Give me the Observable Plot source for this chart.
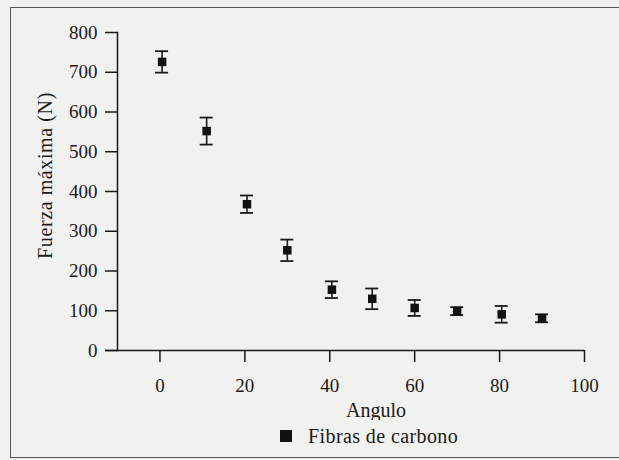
<!DOCTYPE html>
<html><head><meta charset="utf-8">
<script src="https://cdn.jsdelivr.net/npm/d3@7"></script>
<script src="https://cdn.jsdelivr.net/npm/@observablehq/plot@0.6"></script>
<style>
html,body{margin:0;padding:0;background:#f1f1ef;}
body{width:619px;height:460px;position:relative;overflow:hidden;font-family:"Liberation Serif",serif;color:#1a1a1a;}
#frame{position:absolute;left:10px;top:7px;width:640px;height:451px;border:1.5px solid #555;box-sizing:border-box;pointer-events:none;}
#chart{position:absolute;left:0;top:0;}
#legend{position:absolute;left:280px;top:425px;display:flex;align-items:center;gap:16px;font-size:20px;letter-spacing:0.4px;line-height:22px;}
#legend .sw{width:12px;height:12px;background:#111;display:inline-block;}
</style></head>
<body>
<div id="chart"></div>
<div id="legend"><span class="sw"></span><span id="legtext"></span></div>
<div id="frame"></div>
<script>
const angles = [0.5, 11, 20.5, 30, 40.5, 50, 60, 70, 80.5, 90];
const fuerza = [726, 552, 368, 252, 153, 130, 107, 99, 91, 81];
const errores = [27, 34, 22, 27, 21, 26, 20, 10, 21, 10];
const xTicks = [0, 20, 40, 60, 80, 100];
const yTicks = [0, 100, 200, 300, 400, 500, 600, 700, 800];
const seriesName = "Fibras de carbono";
const xLabel = "Angulo";
const yLabel = "Fuerza máxima (N)";

const data = angles.map((a, i) => ({x: a, y: fuerza[i], lo: fuerza[i] - errores[i], hi: fuerza[i] + errores[i]}));
const ink = "#1a1a1a";
document.getElementById("legtext").textContent = seriesName;

const chart = Plot.plot({
  width: 619, height: 420,
  marginLeft: 117, marginRight: 35, marginTop: 32, marginBottom: 70,
  style: {background: "transparent", fontFamily: "Liberation Serif, serif", fontSize: "19px", color: ink},
  x: {domain: [-10, 100]},
  y: {domain: [0, 800]},
  marks: [
    Plot.frame({anchor: "left", stroke: ink, strokeWidth: 1.5}),
    Plot.ruleY([0], {stroke: ink, strokeWidth: 1.5, insetLeft: -12}),
    Plot.axisY({ticks: yTicks, tickSize: 12, tickPadding: 8, label: null, stroke: ink, strokeWidth: 1.5, fontSize: 19}),
    Plot.axisX({ticks: xTicks, tickSize: 12, tickPadding: 16, label: null, stroke: ink, strokeWidth: 1.5, fontSize: 19}),
    Plot.text([xLabel], {text: d => d, frameAnchor: "bottom", textAnchor: "middle", dx: 25, dy: 66, fontSize: 20, fill: ink, style: "letter-spacing:0.4px"}),
    Plot.text([yLabel], {text: d => d, frameAnchor: "left", textAnchor: "middle", dx: -72, dy: -16, rotate: -90, fontSize: 20, fill: ink}),
    Plot.ruleX(data, {x: "x", y1: "lo", y2: "hi", stroke: ink, strokeWidth: 1.6}),
    Plot.ruleY(data, {y: "hi", x1: "x", x2: "x", insetLeft: -6.5, insetRight: -6.5, stroke: ink, strokeWidth: 1.8}),
    Plot.ruleY(data, {y: "lo", x1: "x", x2: "x", insetLeft: -6.5, insetRight: -6.5, stroke: ink, strokeWidth: 1.8}),
    Plot.dot(data, {x: "x", y: "y", symbol: "square", r: 4.8, fill: "#111", stroke: "none"})
  ]
});
chart.querySelectorAll("text").forEach(t => { if (t.textContent === yLabel) t.style.letterSpacing = "0.6px"; });
document.getElementById("chart").appendChild(chart);
</script>
</body></html>
